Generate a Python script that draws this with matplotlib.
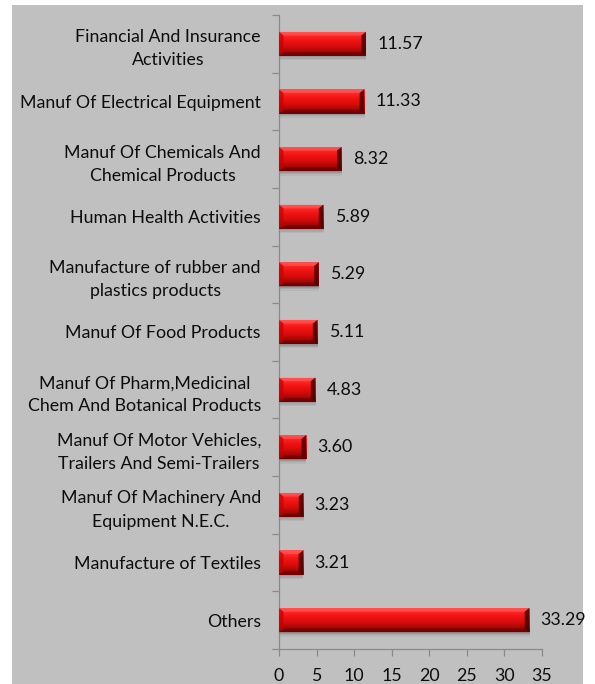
import matplotlib
matplotlib.use("Agg")
import matplotlib.pyplot as plt
from matplotlib.patches import Polygon, Rectangle
from matplotlib.colors import LinearSegmentedColormap
import numpy as np

categories = [
    "Financial And Insurance\nActivities",
    "Manuf Of Electrical Equipment",
    "Manuf Of Chemicals And\nChemical Products",
    "Human Health Activities",
    "Manufacture of rubber and\nplastics products",
    "Manuf Of Food Products",
    "Manuf Of Pharm,Medicinal\nChem And Botanical Products",
    "Manuf Of Motor Vehicles,\nTrailers And Semi-Trailers",
    "Manuf Of Machinery And\nEquipment N.E.C.",
    "Manufacture of Textiles",
    "Others",
]
values = [11.57, 11.33, 8.32, 5.89, 5.29, 5.11, 4.83, 3.60, 3.23, 3.21, 33.29]
x_ticks = [0, 5, 10, 15, 20, 25, 30, 35]

plt.rcParams["font.family"] = ["Lato", "DejaVu Sans"]
FS = 12.8
TEXT = "#0d0d0d"
AXIS = "#8a8a8a"
BG = "#c0c0c0"

fig = plt.figure(figsize=(5.95, 6.84), dpi=100)
fig.patch.set_facecolor("white")
fig.patches.append(Rectangle((12 / 595, 0), 571 / 595, 679 / 684,
                             transform=fig.transFigure, facecolor=BG,
                             edgecolor="none", zorder=-10))

ax = fig.add_axes([279 / 595, 35 / 684, 263 / 595, 634 / 684])
ax.set_facecolor("none")

n = len(categories)
pos = np.arange(n)
bar_h = 0.42
ax.set_xlim(0, 35)
ax.set_ylim(n - 0.5, -0.5)

bars = ax.barh(pos, values, height=bar_h, color="#e01010", edgecolor="none", zorder=3)

# bevelled bar styling
grad = np.linspace(0, 1, 64).reshape(-1, 1)
cmap = LinearSegmentedColormap.from_list(
    "bev", [(0.0, "#ff4a4a"), (0.15, "#ff2828"), (0.4, "#ee1212"),
            (0.62, "#d60c0c"), (0.78, "#b00808"), (1.0, "#800000")])
bx = 0.6    # bevel depth along x, data units
by = 0.065  # bevel depth along y, data units
for rect, v in zip(bars, values):
    x0, y0 = rect.get_x(), rect.get_y()
    w, h = rect.get_width(), rect.get_height()
    x1, y1 = x0 + w, y0 + h
    # soft drop shadow beneath the bar
    for k, a in enumerate([0.35, 0.25, 0.15]):
        d = 0.025 * (k + 1)
        ax.add_patch(Rectangle((x0 + 0.05, y0 + d), w, h, facecolor="#808080",
                               edgecolor="none", alpha=a, zorder=2))
    im = ax.imshow(grad, extent=(x0, x1, y1, y0), cmap=cmap, aspect="auto",
                   zorder=4, interpolation="bilinear")
    im.set_clip_path(rect)
    # top bevel
    ax.add_patch(Polygon([(x0, y0), (x1, y0), (x1 - bx, y0 + by), (x0 + bx, y0 + by)],
                         closed=True, facecolor="#ff6a6a", edgecolor="none", alpha=0.45, zorder=5))
    # bottom bevel
    ax.add_patch(Polygon([(x0, y1), (x1, y1), (x1 - bx, y1 - by), (x0 + bx, y1 - by)],
                         closed=True, facecolor="#600000", edgecolor="none", alpha=0.55, zorder=5))
    # left end
    ax.add_patch(Polygon([(x0, y0), (x0 + bx, y0 + by), (x0 + bx, y1 - by), (x0, y1)],
                         closed=True, facecolor="#c80000", edgecolor="none", alpha=0.7, zorder=5))
    # right end
    ax.add_patch(Polygon([(x1, y0), (x1 - bx, y0 + by), (x1 - bx, y1 - by), (x1, y1)],
                         closed=True, facecolor="#4a0000", edgecolor="none", alpha=0.85, zorder=5))
    ax.text(v + 1.5, rect.get_y() + h / 2, f"{v:.2f}", va="center", ha="left",
            fontsize=FS, color=TEXT, zorder=6)

# axes styling
for s in ["top", "right"]:
    ax.spines[s].set_visible(False)
for s in ["left", "bottom"]:
    ax.spines[s].set_color(AXIS)
    ax.spines[s].set_linewidth(0.9)

ax.set_xticks(x_ticks)
ax.set_xticklabels([str(t) for t in x_ticks], fontsize=FS, color=TEXT)
ax.tick_params(axis="x", direction="out", length=5, width=0.9, color=AXIS, pad=8.5)

ax.set_yticks(np.arange(-0.5, n, 1.0))
ax.set_yticklabels([])
ax.tick_params(axis="y", which="major", direction="out", length=5, width=0.9, color=AXIS)
ax.set_yticks(pos, minor=True)
ax.set_yticklabels(categories, minor=True, fontsize=FS, color=TEXT,
                   multialignment="center", linespacing=1.55)
ax.tick_params(axis="y", which="minor", length=0, pad=13)

fig.savefig("out.png", dpi=100, facecolor=fig.get_facecolor())
